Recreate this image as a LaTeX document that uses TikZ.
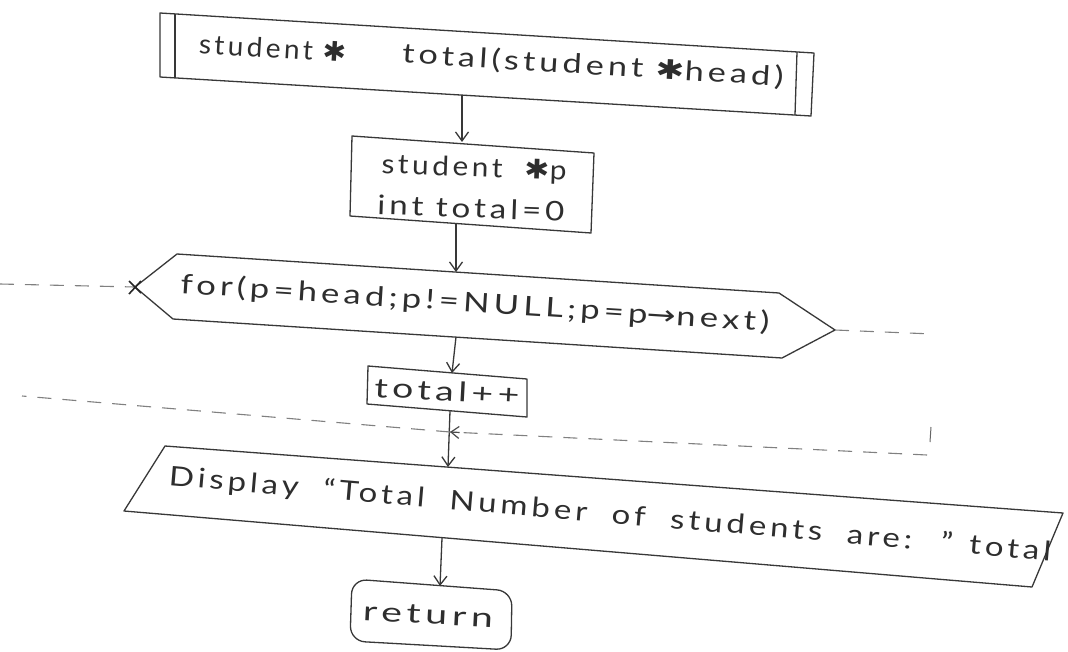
\documentclass[tikz,border=0pt]{standalone}
\usepackage{fontspec}
\usepackage{graphicx}
\setmainfont{Lato}
\newfontfamily\handfont[LetterSpace=12]{Lato}
\newfontfamily\glyphfont{DejaVu Sans}
% stretch a label horizontally to a given width, keeping its height
\newcommand{\fitto}[2]{\resizebox{#1}{\height}{#2}}
\newcommand{\starmark}{{\glyphfont ✱}}
\newcommand{\nextarrow}{{\glyphfont →}}
\usetikzlibrary{arrows.meta,calc}

\begin{document}
\begin{tikzpicture}[x=1pt,y=-1pt,
  pen/.style={draw=black!78, line width=1.3pt, line join=round},
  flow/.style={draw=black!78, line width=1.3pt, -{Straight Barb[length=9pt,width=13pt]}},
  loopline/.style={draw=black!50, line width=1.1pt, dash pattern=on 14pt off 11pt},
  lbl/.style={text=black!82, inner sep=0pt, font=\handfont\fontsize{27}{32}\selectfont},
]
\fill[white] (0,0) rectangle (1068,651);
\useasboundingbox (0,0) rectangle (1068,651);

% ---- function header (predefined process box) ----
\coordinate (hdA) at (160,13);
\coordinate (hdB) at (814,53);
\coordinate (hdC) at (811,116);
\coordinate (hdD) at (160,77);
\draw[pen] (hdA) -- (hdB) -- (hdC) -- (hdD) -- cycle;
\draw[pen] (175,14) -- (175,78);
\draw[pen] (797,52) -- (795,115);
\node[lbl, rotate=-3.5] (hdret) at (273,48) {\fitto{148pt}{student \starmark}};
\node[lbl, rotate=-3.5] (hdsig) at (593,66) {\fitto{382pt}{total(student \starmark head)}};
\coordinate (hdS) at (462,95);

% ---- declarations ----
\coordinate (dcA) at (352,136);
\coordinate (dcB) at (594,153);
\coordinate (dcC) at (591,233);
\coordinate (dcD) at (350,216);
\draw[pen] (dcA) -- (dcB) -- (dcC) -- (dcD) -- cycle;
\node[lbl, rotate=-2] (dcl1) at (474,169) {\fitto{185pt}{student \ \starmark p}};
\node[lbl, rotate=-2] (dcl2) at (471,208) {\fitto{187pt}{int total=0}};
\coordinate (dcN) at (462,142);
\coordinate (dcS) at (456,223);

% ---- loop header (hexagon) ----
\coordinate (lpL) at (135,287);
\coordinate (lpTL) at (177,254);
\coordinate (lpTR) at (779,293);
\coordinate (lpR) at (835,330);
\coordinate (lpBR) at (782,358);
\coordinate (lpBL) at (173,319);
\draw[pen] (lpL) -- (lpTL) -- (lpTR) -- (lpR) -- (lpBR) -- (lpBL) -- cycle;
\node[lbl, rotate=-3.7] (lptext) at (475,304)
  {\fitto{590pt}{for(p=head;p!=NULL;p=p\nextarrow next)}};
\coordinate (lpN) at (456,272);
\coordinate (lpS) at (456,337);

% ---- loop body ----
\coordinate (bdA) at (368,366);
\coordinate (bdB) at (527,379);
\coordinate (bdC) at (527,417);
\coordinate (bdD) at (367,404);
\draw[pen] (bdA) -- (bdB) -- (bdC) -- (bdD) -- cycle;
\node[lbl, rotate=-3] (bdtext) at (447,391) {\fitto{145pt}{total++}};
\coordinate (bdN) at (452,373);
\coordinate (bdS) at (450,411);

% ---- output ----
\coordinate (outA) at (165,446);
\coordinate (outB) at (1063,513);
\coordinate (outC) at (1032,587);
\coordinate (outD) at (124,511);
\draw[pen] (outA) -- (outB) -- (outC) -- (outD) -- cycle;
\node[lbl, rotate=-4.9] (outtext) at (610,515)
  {\fitto{885pt}{Display \ “Total \ Number \ of \ students \ are: \ ” total}};
\coordinate (outN) at (448,467);
\coordinate (outS) at (442,538);

% ---- terminator ----
\draw[pen, rounded corners=15pt] (352,579) -- (512,591) -- (511,650) -- (350,641) -- cycle;
\node[lbl, rotate=-3] (endtext) at (428,615) {\fitto{130pt}{return}};
\coordinate (endN) at (440,586);

% ---- flow connectors ----
\draw[flow] (hdS) -- (dcN);
\draw[flow] (dcS) -- (lpN);
\draw[flow] (lpS) -- (bdN);
\draw[flow] (bdS) -- (outN);
\draw[flow] (outS) -- (endN);

% ---- loop return and exit paths ----
\coordinate (jn) at (450,432);
\coordinate (rtEnd) at (927,455);
\coordinate (lfEnd) at (22,396);
\coordinate (exEnd) at (933,334);
\coordinate (inEnd) at (0,284);
\draw[loopline] (rtEnd) -- (jn);
\draw[draw=black!70, line width=1.2pt, -{Straight Barb[length=8pt,width=12pt]}] ($(jn)!0.02!(rtEnd)$) -- (jn);
\draw[loopline] (jn) -- (lfEnd);
\draw[loopline] (lpR) -- (exEnd);
\draw[loopline] (inEnd) -- (lpL);
\draw[draw=black!60, line width=1pt] (931,427) -- (930,442);
\draw[draw=black!85, line width=1.6pt] (129,281) -- (141,293) (129,294) -- (141,281);
\end{tikzpicture}
\end{document}
